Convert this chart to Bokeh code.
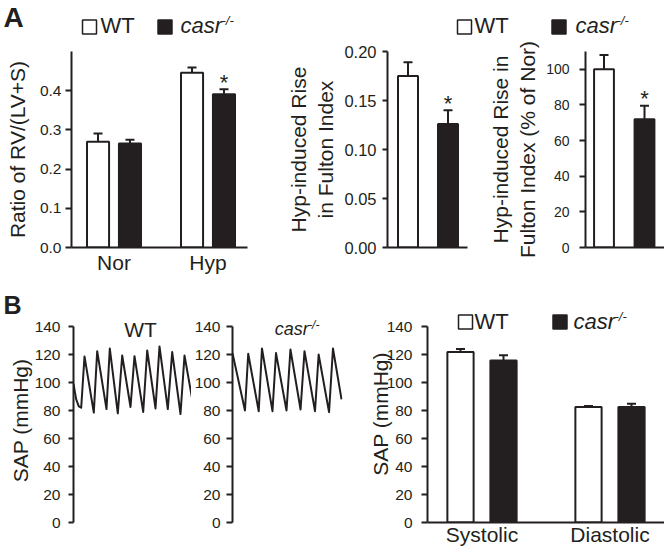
from bokeh.plotting import figure
from bokeh.layouts import column, row
from bokeh.models import (Range1d, FixedTicker, Label, Whisker, TeeHead,
                          ColumnDataSource, PrintfTickFormatter)
from bokeh.embed import file_html
from bokeh.resources import INLINE
from bokeh.core.properties import value

FONT = "Liberation Sans"
INK = "#231f20"
LABEL_SHIFT = 0.36   # label baseline correction, in em

# ---------------- data ----------------
a1_groups = ["Nor", "Hyp"]
a1_wt = [0.270, 0.446]
a1_wt_err = [0.021, 0.013]
a1_ko = [0.265, 0.391]
a1_ko_err = [0.010, 0.013]
a1_ko_sig = ["", "*"]
a1_yticks = [0.0, 0.1, 0.2, 0.3, 0.4, 0.5]

a2_vals = [0.175, 0.126]
a2_err = [0.014, 0.014]
a2_sig = ["", "*"]
a2_yticks = [0.00, 0.05, 0.10, 0.15, 0.20]

a3_vals = [100.0, 72.0]
a3_err = [8.0, 7.5]
a3_sig = ["", "*"]
a3_yticks = [0, 20, 40, 60, 80, 100]

b3_groups = ["Systolic", "Diastolic"]
b3_wt = [121.7, 82.5]
b3_wt_err = [2.2, 0.7]
b3_ko = [115.8, 82.5]
b3_ko_err = [3.6, 2.4]
b_yticks = [0, 20, 40, 60, 80, 100, 120, 140]

# pressure traces (time in trace samples, pressure in mmHg)
wt_time = [0, 2.7, 5.3, 7.7, 11, 20.3, 23.7, 33, 36.3, 44.3, 48.7, 57, 61,
           69.7, 73.7, 82, 86, 94.3, 98.7, 107, 111, 120]
wt_sap = [99, 88, 83, 82, 118.6, 78.5, 122.4, 81, 124.3, 78, 119.3, 82.5,
          118.8, 79, 122.9, 81.5, 125.8, 81, 121.7, 77.5, 119.3, 83]
ko_time = [0, 12.7, 16, 26.7, 30, 40.7, 44.3, 55, 59, 69.3, 73.3, 84, 87.7,
           98.3, 102.3, 111]
ko_sap = [121, 80, 120.5, 79.5, 124.3, 79.5, 121, 80, 123.6, 80.7, 122.4,
          79.5, 120, 78.8, 124.3, 88]


# ---------------- layout helpers ----------------
class Panel:
    """A figure whose canvas and frame are given in page pixels."""

    def __init__(self, box, frame, xmap, ymap, **kw):
        (px1, v1), (px2, v2) = xmap
        (py1, w1), (py2, w2) = ymap
        self.kx, self.px1, self.v1 = (v2 - v1) / (px2 - px1), px1, v1
        self.ky, self.py1, self.w1 = (w2 - w1) / (py2 - py1), py1, w1
        l, t, r, b = box
        fl, ft, fr, fb = frame
        self.fig = figure(width=r - l, height=b - t,
                          x_range=Range1d(self.dx(fl), self.dx(fr)),
                          y_range=Range1d(self.dy(fb), self.dy(ft)),
                          min_border_left=fl - l, min_border_right=r - fr,
                          min_border_top=ft - t, min_border_bottom=b - fb,
                          output_backend="svg", toolbar_location=None,
                          tools="", title=None, **kw)
        p = self.fig
        p.outline_line_color = None
        p.background_fill_color = "white"
        p.border_fill_color = "white"
        p.grid.visible = False
        for ax in p.axis:
            ax.axis_line_color = INK
            ax.axis_line_width = 2
            ax.major_tick_line_color = INK
            ax.major_tick_line_width = 2
            ax.major_tick_in = 0
            ax.major_tick_out = 6
            ax.minor_tick_line_color = None
            ax.major_label_text_font = FONT
            ax.major_label_text_color = INK
            ax.axis_label_text_font = FONT
            ax.axis_label_text_color = INK
            ax.axis_label_text_font_style = "normal"

    def dx(self, px):
        return self.v1 + (px - self.px1) * self.kx

    def dy(self, py):
        return self.w1 + (py - self.py1) * self.ky

    def label(self, px, py, text, size, align="left", style="normal"):
        py = py - LABEL_SHIFT * size
        self.fig.add_layout(Label(x=self.dx(px), y=self.dy(py), text=text,
                                  text_font=FONT, text_font_size=f"{size}px",
                                  text_font_style=style, text_align=align,
                                  text_baseline="alphabetic", text_color=INK))

    def key(self, px, py, fill):
        self.fig.scatter([self.dx(px)], [self.dy(py)], marker="square",
                         size=14, fill_color=fill, line_color=INK,
                         line_width=1.5)

    def legend(self, sq1, wt_x, sq2, ko_x, yc, base):
        self.key(sq1, yc, "white")
        self.label(wt_x, base, "WT", 22)
        self.key(sq2, yc, INK)
        self.label(ko_x, base, "casr", 22, style="italic")
        self.label(ko_x + 41, base - 8, "-/-", 13, style="italic")


def style_y(p, ticks, fmt, size, tick_out, standoff, label, label_size,
            label_standoff, bounds=None):
    ax = p.yaxis[0]
    ax.ticker = FixedTicker(ticks=ticks)
    if fmt:
        ax.formatter = PrintfTickFormatter(format=fmt)
    ax.major_label_text_font_size = f"{size}px"
    ax.major_tick_out = tick_out
    ax.major_label_standoff = standoff
    if label:
        ax.axis_label = label
        ax.axis_label_text_font_size = f"{label_size}px"
        ax.axis_label_standoff = label_standoff
    if bounds:
        ax.bounds = bounds


def style_x(p, ticks=None, labels=None, size=21, standoff=3):
    ax = p.xaxis[0]
    ax.major_tick_line_color = None
    ax.major_tick_out = 0
    if ticks:
        ax.ticker = FixedTicker(ticks=ticks)
        ax.major_label_overrides = dict(zip(ticks, labels))
        ax.major_label_text_font_size = f"{size}px"
        ax.major_label_standoff = standoff
    else:
        ax.ticker = FixedTicker(ticks=[])


def bars(p, xs, vals, errs, fill, width, sig=None, star_size=22):
    src = ColumnDataSource(dict(x=xs, top=vals,
                                upper=[v + e for v, e in zip(vals, errs)],
                                sig=sig if sig else [""] * len(xs)))
    p.vbar(x="x", top="top", bottom=0, width=width, source=src,
           fill_color=fill, line_color=INK, line_width=2)
    p.add_layout(Whisker(source=src, base="x", lower="top", upper="upper",
                         dimension="height", lower_head=None,
                         upper_head=TeeHead(size=9, line_color=INK,
                                            line_width=2),
                         line_color=INK, line_width=2))
    if sig:
        p.text(x="x", y="upper", text="sig", source=src, text_align="center",
               text_baseline="alphabetic", text_font=value(FONT),
               text_font_size=f"{star_size}px", text_color=INK, y_offset=-7)


# ---------------- top strip (panel letter A + legends) ----------------
strip = Panel((0, 0, 664, 42), (0, 0, 664, 42), ((0, 0), (664, 664)),
              ((42, 0), (0, 42)), x_axis_location=None, y_axis_location=None)
strip.label(3, 27, "A", 28, style="bold")
strip.legend(89, 100, 164.5, 180, 26.5, 33)
strip.legend(464, 474, 558.5, 575, 26.5, 33)

# ---------------- panel A1 ----------------
A1 = Panel((0, 42, 250, 290), (71, 51, 247, 247),
           ((113.5, 0), (207.5, 1)), ((247, 0.0), (51, 0.5)))
OFF1, BW1 = 0.17, 0.235
bars(A1.fig, [i - OFF1 for i in range(len(a1_groups))], a1_wt, a1_wt_err,
     "white", BW1)
bars(A1.fig, [i + OFF1 for i in range(len(a1_groups))], a1_ko, a1_ko_err,
     INK, BW1, sig=a1_ko_sig)
style_y(A1.fig, a1_yticks, "%.1f", 15.5, 6, 4, "Ratio of RV/(LV+S)", 21, 8)
style_x(A1.fig, list(range(len(a1_groups))), a1_groups, 21, 3)

# ---------------- panel A2 ----------------
A2 = Panel((250, 42, 472, 290), (387, 51, 467, 247),
           ((407.5, 0), (447.5, 1)), ((247, 0.0), (51, 0.2)))
bars(A2.fig, [0], a2_vals[:1], a2_err[:1], "white", 0.5)
bars(A2.fig, [1], a2_vals[1:], a2_err[1:], INK, 0.5, sig=a2_sig[1:])
style_y(A2.fig, a2_yticks, "%.2f", 16.5, 5, 6,
        "Hyp-induced Rise\nin Fulton Index", 21, 4)
style_x(A2.fig)

# ---------------- panel A3 ----------------
A3 = Panel((472, 42, 664, 290), (585, 51, 664, 247),
           ((603.5, 0), (644, 1)), ((247, 0.0), (51, 110.0)))
bars(A3.fig, [0], a3_vals[:1], a3_err[:1], "white", 0.49)
bars(A3.fig, [1], a3_vals[1:], a3_err[1:], INK, 0.49, sig=a3_sig[1:])
style_y(A3.fig, a3_yticks, "%d", 14, 6, 10,
        "Hyp-induced Rise in\nFulton Index (% of Nor)", 21, 4)
style_x(A3.fig)

# ---------------- strip above the traces (panel letter B) ----------------
bstrip = Panel((0, 290, 345, 318), (0, 290, 345, 318), ((0, 0), (345, 345)),
               ((318, 0), (290, 28)), x_axis_location=None,
               y_axis_location=None)
bstrip.label(3, 313.5, "B", 25, style="bold")

# ---------------- panel B1 (WT trace) ----------------
B1 = Panel((0, 318, 191, 555), (73, 318, 191, 522),
           ((73, 0), (193, 120)), ((522, 0), (326, 140)),
           x_axis_location=None)
B1.fig.line(wt_time, wt_sap, line_width=2, line_color=INK, line_join="round")
style_y(B1.fig, b_yticks, "%d", 15.5, 5, 8, "SAP (mmHg)", 21, 0, (0, 140))
B1.label(140, 337, "WT", 21, align="center")

# ---------------- panel B2 (casr-/- trace) ----------------
B2 = Panel((191, 318, 345, 555), (230, 318, 342, 522),
           ((230, 0), (341, 111)), ((522, 0), (326, 140)),
           x_axis_location=None)
B2.fig.line(ko_time, ko_sap, line_width=2, line_color=INK, line_join="round")
style_y(B2.fig, b_yticks, "%d", 15.5, 6, 6, None, 21, 0, (0, 140))
B2.label(273, 335, "casr", 18, style="italic")
B2.label(307, 329, "-/-", 12, style="italic")

# ---------------- panel B3 (bars) ----------------
B3 = Panel((345, 290, 664, 555), (427, 305, 664, 522),
           ((481.5, 0), (609.5, 1)), ((522, 0), (326, 140)))
OFF3, BW3 = 0.168, 0.205
bars(B3.fig, [i - OFF3 for i in range(len(b3_groups))], b3_wt, b3_wt_err,
     "white", BW3)
bars(B3.fig, [i + OFF3 for i in range(len(b3_groups))], b3_ko, b3_ko_err,
     INK, BW3)
style_y(B3.fig, b_yticks, "%d", 15.5, 6, 9, "SAP (mmHg)", 21, -8, (0, 140))
style_x(B3.fig, list(range(len(b3_groups))), b3_groups, 21, 0)
B3.legend(465, 474, 559.5, 573, 321.5, 329)

page = column(strip.fig,
              row(A1.fig, A2.fig, A3.fig, spacing=0),
              row(column(bstrip.fig, row(B1.fig, B2.fig, spacing=0),
                         spacing=0),
                  B3.fig, spacing=0),
              spacing=0)

open("out.html", "w").write(file_html(page, INLINE))
